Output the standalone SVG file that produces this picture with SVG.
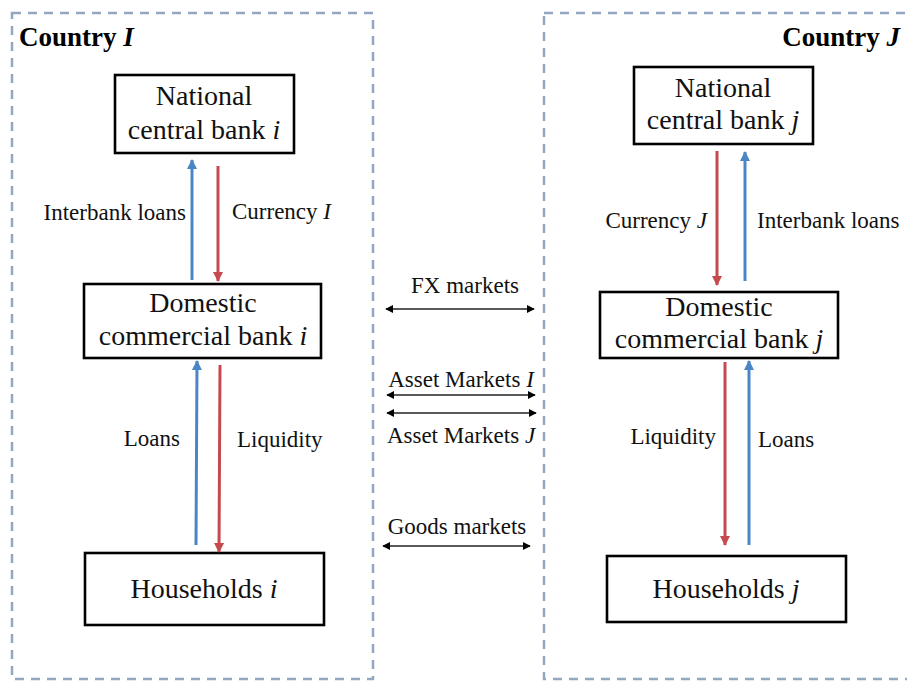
<svg xmlns="http://www.w3.org/2000/svg" width="907" height="681" viewBox="0 0 907 681">
<defs>
<style>
.region{fill:none;stroke:#93a8c0;stroke-width:2.5;stroke-dasharray:9 7}
.box{fill:#fff;stroke:#000;stroke-width:2.6}
.nt{font-family:"Liberation Serif","Times New Roman",serif;font-size:28px;fill:#111;text-anchor:middle}
.lb{font-family:"Liberation Serif","Times New Roman",serif;font-size:23px;fill:#111}
.ttl{font-family:"Liberation Serif","Times New Roman",serif;font-size:27px;font-weight:bold;fill:#000}
.blue{stroke:#4a86c6;stroke-width:3;fill:none}
.red{stroke:#c54a4e;stroke-width:3;fill:none}
.blk{stroke:#222;stroke-width:1.6;fill:none}
</style>
<marker id="hb" viewBox="0 0 10 10" refX="9" refY="5" markerWidth="10" markerHeight="11" markerUnits="userSpaceOnUse" orient="auto"><path d="M0,0 L10,5 L0,10 z" fill="#4a86c6"/></marker>
<marker id="hr" viewBox="0 0 10 10" refX="9" refY="5" markerWidth="10" markerHeight="11" markerUnits="userSpaceOnUse" orient="auto"><path d="M0,0 L10,5 L0,10 z" fill="#c54a4e"/></marker>
<marker id="hk" viewBox="0 0 10 10" refX="9" refY="5" markerWidth="8" markerHeight="8" markerUnits="userSpaceOnUse" orient="auto-start-reverse"><path d="M0,0 L10,5 L0,10 z" fill="#000"/></marker>
</defs>
<rect width="907" height="681" fill="#fff"/>

<g id="country-I">
<rect class="region" x="12" y="13" width="361" height="666"/>
<text class="ttl" x="19" y="46">Country <tspan font-style="italic">I</tspan></text>
</g>
<g id="country-J">
<rect class="region" x="544" y="13" width="380" height="666"/>
<text class="ttl" x="900" y="46" text-anchor="end">Country <tspan font-style="italic">J</tspan></text>
</g>

<g id="ncb-i">
<rect class="box" x="115" y="75" width="179" height="78"/>
<text class="nt" x="204" y="105">National</text>
<text class="nt" x="204" y="139">central bank <tspan font-style="italic">i</tspan></text>
</g>
<g id="dcb-i">
<rect class="box" x="84" y="284" width="237" height="74"/>
<text class="nt" x="203" y="312">Domestic</text>
<text class="nt" x="203" y="345">commercial bank <tspan font-style="italic">i</tspan></text>
</g>
<g id="hh-i">
<rect class="box" x="85" y="553" width="239" height="72"/>
<text class="nt" x="204" y="598">Households <tspan font-style="italic">i</tspan></text>
</g>

<g id="ncb-j">
<rect class="box" x="634" y="67" width="179" height="77"/>
<text class="nt" x="723" y="97">National</text>
<text class="nt" x="723" y="129">central bank <tspan font-style="italic">j</tspan></text>
</g>
<g id="dcb-j">
<rect class="box" x="600" y="292" width="238" height="66"/>
<text class="nt" x="719" y="316">Domestic</text>
<text class="nt" x="719" y="348">commercial bank <tspan font-style="italic">j</tspan></text>
</g>
<g id="hh-j">
<rect class="box" x="607" y="556" width="239" height="66"/>
<text class="nt" x="726" y="598">Households <tspan font-style="italic">j</tspan></text>
</g>

<g id="connectors">
<line class="blue" x1="192" y1="280" x2="192" y2="160" marker-end="url(#hb)"/>
<line class="red" x1="218" y1="166" x2="218" y2="281" marker-end="url(#hr)"/>
<line class="blue" x1="196" y1="545" x2="197" y2="361" marker-end="url(#hb)"/>
<line class="red" x1="220" y1="365" x2="219" y2="552" marker-end="url(#hr)"/>
<line class="red" x1="717" y1="151" x2="717" y2="285" marker-end="url(#hr)"/>
<line class="blue" x1="745" y1="281" x2="745" y2="152" marker-end="url(#hb)"/>
<line class="red" x1="725" y1="362" x2="725" y2="545" marker-end="url(#hr)"/>
<line class="blue" x1="749" y1="545" x2="749" y2="361" marker-end="url(#hb)"/>
<line class="blk" x1="386" y1="309" x2="534" y2="309" marker-start="url(#hk)" marker-end="url(#hk)"/>
<line class="blk" x1="387" y1="395" x2="535" y2="395" marker-start="url(#hk)" marker-end="url(#hk)"/>
<line class="blk" x1="387" y1="413" x2="536" y2="413" marker-start="url(#hk)" marker-end="url(#hk)"/>
<line class="blk" x1="383" y1="546" x2="530" y2="546" marker-start="url(#hk)" marker-end="url(#hk)"/>

<text class="lb" x="186" y="220" text-anchor="end">Interbank loans</text>
<text class="lb" x="232" y="219">Currency <tspan font-style="italic">I</tspan></text>
<text class="lb" x="180" y="446" text-anchor="end">Loans</text>
<text class="lb" x="237" y="447">Liquidity</text>
<text class="lb" x="707" y="228" text-anchor="end">Currency <tspan font-style="italic">J</tspan></text>
<text class="lb" x="757" y="228">Interbank loans</text>
<text class="lb" x="716" y="444" text-anchor="end">Liquidity</text>
<text class="lb" x="758" y="447">Loans</text>
<text class="lb" x="465" y="293" text-anchor="middle">FX markets</text>
<text class="lb" x="461" y="387" text-anchor="middle">Asset Markets <tspan font-style="italic">I</tspan></text>
<text class="lb" x="461" y="443" text-anchor="middle">Asset Markets <tspan font-style="italic">J</tspan></text>
<text class="lb" x="457" y="534" text-anchor="middle">Goods markets</text>
</g>
</svg>
